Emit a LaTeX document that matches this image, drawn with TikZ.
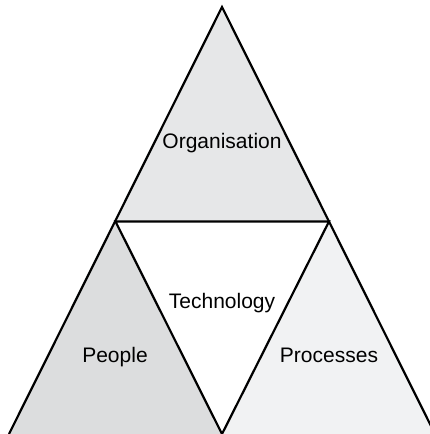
\documentclass[tikz,border=0pt]{standalone}
\usepackage{fontspec}
\setmainfont{Liberation Sans}
\usetikzlibrary{positioning}
\definecolor{orgfill}{HTML}{E6E7E8}
\definecolor{peoplefill}{HTML}{DCDDDE}
\definecolor{procfill}{HTML}{F1F2F3}

\begin{document}
\begin{tikzpicture}[x=1pt, y=-1pt, every node/.style={font=\fontsize{21}{25}\selectfont, inner sep=0pt, anchor=base}, side/.style={line width=2.2pt, black}]
		\useasboundingbox (0,0) rectangle (430,434);
		\coordinate (top) at (222,7);
		\coordinate (midl) at (115.5,221.5);
		\coordinate (midr) at (329,221.5);
		\coordinate (botl) at (9,434);
		\coordinate (botm) at (222,434);
		\coordinate (botr) at (435,434);
		\fill[orgfill] (top) -- (midr) -- (midl) -- cycle;
		\fill[peoplefill] (midl) -- (botm) -- (botl) -- cycle;
		\fill[procfill] (midr) -- (botr) -- (botm) -- cycle;
		\draw[side] (botl) -- (top) -- (botr);
		\draw[side] (midl) -- (botm) -- (midr) -- cycle;
		\node (org) at (222,148) {Organisation};
		\node (tech) at (222,308) {Technology};
		\node (people) at (115,362.5) {People};
		\node (proc) at (329,362.5) {Processes};
	\end{tikzpicture}
\end{document}
